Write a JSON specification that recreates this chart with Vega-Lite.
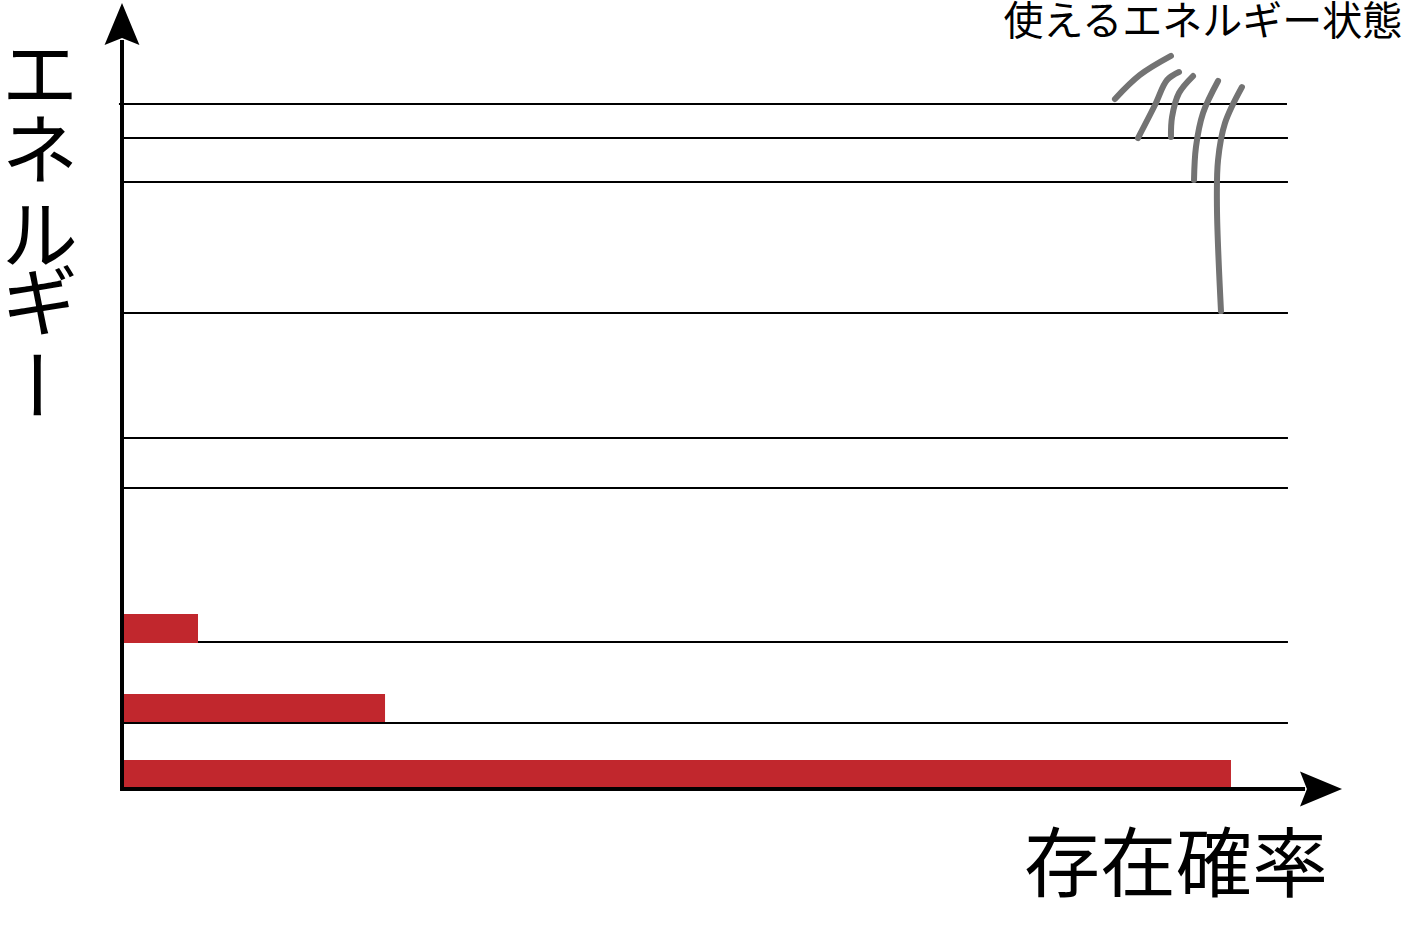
{
  "$schema": "https://vega.github.io/schema/vega-lite/v6.json",
  "width": 1220,
  "height": 786,
  "autosize": "none",
  "padding": {"left": 122, "top": 3, "right": 64, "bottom": 137},
  "background": "white",
  "config": {"view": {"stroke": null}},
  "datasets": {
    "levels": [
      {"x": 0, "x2": 0.9557, "y": 8.40},
      {"x": 0, "x2": 0.9557, "y": 18.70},
      {"x": 0, "x2": 0.9557, "y": 38.30},
      {"x": 0, "x2": 0.9557, "y": 44.66},
      {"x": 0, "x2": 0.9557, "y": 60.56},
      {"x": 0, "x2": 0.9557, "y": 77.23},
      {"x": 0, "x2": 0.9557, "y": 82.82},
      {"x": -0.0025, "x2": 0.9549, "y": 87.15}
    ],
    "population": [
      {"x": 0, "x2": 0.909, "y": 0.0, "y2": 3.69},
      {"x": 0, "x2": 0.2156, "y": 8.52, "y2": 12.09},
      {"x": 0, "x2": 0.0623, "y": 18.58, "y2": 22.26}
    ],
    "axes": [
      {"x": 0, "x2": 0, "y": -0.2, "y2": 95.3},
      {"x": -0.0016, "x2": 0.9697, "y": 0, "y2": 0}
    ],
    "arrows": [
      {"x": 0, "y": 97.33, "rot": 0},
      {"x": 0.9828, "y": 0, "rot": 90}
    ],
    "pointers": [
      {"id": "a", "k": 0, "x": 0.8139, "y": 87.79},
      {"id": "a", "k": 1, "x": 0.8344, "y": 90.84},
      {"id": "a", "k": 2, "x": 0.8598, "y": 93.26},
      {"id": "b", "k": 0, "x": 0.8328, "y": 82.82},
      {"id": "b", "k": 1, "x": 0.8467, "y": 87.02},
      {"id": "b", "k": 2, "x": 0.8566, "y": 90.20},
      {"id": "b", "k": 3, "x": 0.8664, "y": 91.22},
      {"id": "c", "k": 0, "x": 0.8598, "y": 82.95},
      {"id": "c", "k": 1, "x": 0.8607, "y": 85.50},
      {"id": "c", "k": 2, "x": 0.8664, "y": 88.55},
      {"id": "c", "k": 3, "x": 0.8779, "y": 90.71},
      {"id": "d", "k": 0, "x": 0.8787, "y": 77.48},
      {"id": "d", "k": 1, "x": 0.8803, "y": 81.68},
      {"id": "d", "k": 2, "x": 0.8861, "y": 86.01},
      {"id": "d", "k": 3, "x": 0.8984, "y": 90.08},
      {"id": "e", "k": 0, "x": 0.9008, "y": 60.81},
      {"id": "e", "k": 1, "x": 0.8975, "y": 74.05},
      {"id": "e", "k": 2, "x": 0.8984, "y": 80.03},
      {"id": "e", "k": 3, "x": 0.9041, "y": 84.73},
      {"id": "e", "k": 4, "x": 0.9180, "y": 89.31}
    ],
    "bigText": [
      {"t": "存在確率", "x": 0.864, "y": -10.05},
      {"t": "エ", "x": -0.0672, "y": 90.33},
      {"t": "ネ", "x": -0.0672, "y": 80.66},
      {"t": "ル", "x": -0.0672, "y": 69.85},
      {"t": "ギ", "x": -0.0672, "y": 61.32}
    ],
    "bar": [
      {"t": "ー", "x": -0.0745, "y": 51.40}
    ],
    "note": [
      {"t": "使えるエネルギー状態", "x": 0.886, "y": 97.5}
    ]
  },
  "encoding": {
    "x": {"field": "x", "type": "quantitative", "scale": {"domain": [0, 1], "nice": false, "zero": false}, "axis": null},
    "y": {"field": "y", "type": "quantitative", "scale": {"domain": [0, 100], "nice": false, "zero": false}, "axis": null}
  },
  "layer": [
    {
      "data": {"name": "levels"},
      "mark": {"type": "rule", "color": "black", "strokeWidth": 2},
      "encoding": {
        "x2": {"field": "x2"}
      }
    },
    {
      "data": {"name": "population"},
      "mark": {"type": "rect", "color": "#C1272D"},
      "encoding": {
        "x2": {"field": "x2"},
        "y2": {"field": "y2"}
      }
    },
    {
      "data": {"name": "axes"},
      "mark": {"type": "rule", "color": "black", "strokeWidth": 4},
      "encoding": {
        "x2": {"field": "x2"},
        "y2": {"field": "y2"}
      }
    },
    {
      "data": {"name": "arrows"},
      "mark": {
        "type": "point",
        "shape": "M0,-1L0.83,1L0,0.67L-0.83,1Z",
        "size": 1764,
        "filled": true,
        "color": "black",
        "opacity": 1
      },
      "encoding": {
        "angle": {"field": "rot", "type": "quantitative", "scale": null}
      }
    },
    {
      "data": {"name": "pointers"},
      "mark": {
        "type": "line",
        "color": "#737373",
        "strokeWidth": 6,
        "strokeCap": "round",
        "interpolate": "catmull-rom"
      },
      "encoding": {
        "detail": {"field": "id"},
        "order": {"field": "k", "type": "quantitative"}
      }
    },
    {
      "data": {"name": "bigText"},
      "mark": {
        "type": "text",
        "font": "Noto Sans CJK JP",
        "fontSize": 76,
        "align": "center",
        "baseline": "middle",
        "color": "black"
      },
      "encoding": {"text": {"field": "t"}}
    },
    {
      "data": {"name": "bar"},
      "mark": {
        "type": "text",
        "font": "Noto Sans CJK JP",
        "fontSize": 76,
        "angle": 90,
        "align": "center",
        "baseline": "middle",
        "color": "black"
      },
      "encoding": {"text": {"field": "t"}}
    },
    {
      "data": {"name": "note"},
      "mark": {
        "type": "text",
        "font": "Noto Sans CJK JP",
        "fontSize": 40,
        "align": "center",
        "baseline": "middle",
        "color": "black"
      },
      "encoding": {"text": {"field": "t"}}
    }
  ]
}
